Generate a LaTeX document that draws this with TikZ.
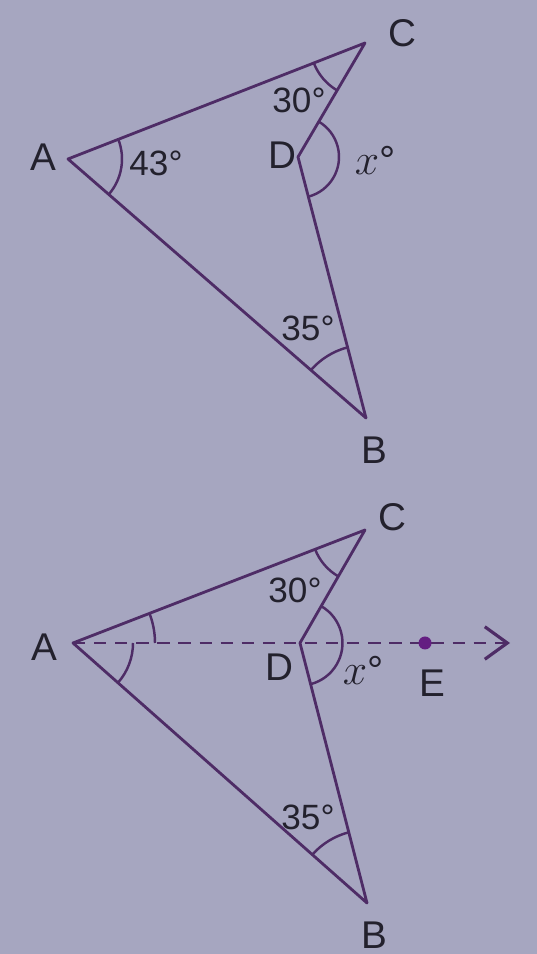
\documentclass[tikz,border=0pt]{standalone}
\usepackage{fontspec}
\setmainfont{Liberation Sans}
\usepackage{tikz}
\usetikzlibrary{arrows.meta,angles}
\definecolor{pageBg}{RGB}{166,166,192}
\definecolor{lineCol}{RGB}{78,44,102}
\definecolor{dotCol}{RGB}{100,30,130}
\definecolor{txtCol}{RGB}{35,33,45}
\tikzset{
  sideln/.style={line width=1.6pt, lineCol, line join=round},
  angarc/.style={draw=lineCol, line width=1.4pt},
  rayln/.style={lineCol, line width=1.4pt, dash pattern=on 7pt off 5pt,
    -{Straight Barb[length=4.5mm,width=6.5mm,line width=1.8pt]}},
  ptlbl/.style={font=\fontsize{22}{24}\selectfont, txtCol, inner sep=0pt},
  anglbl/.style={font=\fontsize{20}{22}\selectfont, txtCol, inner sep=0pt},
}

\begin{document}
\begin{tikzpicture}
    \fill[pageBg] (0,0) rectangle (10.74,19.08);
    \useasboundingbox (0,0) rectangle (10.74,19.08);
    % first figure
    \coordinate (A1) at (1.36,15.90);
    \coordinate (C1) at (7.30,18.22);
    \coordinate (D1) at (5.96,15.94);
    \coordinate (B1) at (7.32,10.72);
    \draw[sideln] (A1) -- (C1) -- (D1) -- (B1) -- cycle;
    \pic[angarc, angle radius=1.08cm] {angle=B1--A1--C1};
    \pic[angarc, angle radius=1.10cm] {angle=A1--C1--D1};
    \pic[angarc, angle radius=0.82cm] {angle=B1--D1--C1};
    \pic[angarc, angle radius=1.46cm] {angle=D1--B1--A1};
    \node[ptlbl] (lA1) at (0.86,15.94) {A};
    \node[ptlbl] (lC1) at (8.04,18.42) {C};
    \node[ptlbl] (lD1) at (5.64,15.98) {D};
    \node[ptlbl] (lB1) at (7.48,10.08) {B};
    \node[anglbl] (a43) at (3.12,15.82) {43°};
    \node[anglbl] (a30t) at (5.98,17.08) {30°};
    \node[anglbl] (axt) at (7.50,15.88) {\fontsize{23}{24}\selectfont$x$°};
    \node[anglbl] (a35t) at (6.16,12.52) {35°};
    % second figure, with the ray through D
    \coordinate (A2) at (1.46,6.22);
    \coordinate (C2) at (7.30,8.48);
    \coordinate (D2) at (6.00,6.22);
    \coordinate (B2) at (7.34,1.02);
    \coordinate (E2) at (8.50,6.22);
    \coordinate (R2) at (10.20,6.22);
    \draw[rayln] (A2) -- (R2);
    \fill[dotCol] (E2) circle (0.13);
    \draw[sideln] (A2) -- (C2) -- (D2) -- (B2) -- cycle;
    \pic[angarc, angle radius=1.20cm] {angle=B2--A2--D2};
    \pic[angarc, angle radius=1.64cm] {angle=D2--A2--C2};
    \pic[angarc, angle radius=1.07cm] {angle=A2--C2--D2};
    \pic[angarc, angle radius=0.85cm] {angle=B2--D2--C2};
    \pic[angarc, angle radius=1.46cm] {angle=D2--B2--A2};
    \node[ptlbl] (lA2) at (0.88,6.14) {A};
    \node[ptlbl] (lC2) at (7.84,8.74) {C};
    \node[ptlbl] (lD2) at (5.58,5.74) {D};
    \node[ptlbl] (lE2) at (8.64,5.42) {E};
    \node[ptlbl] (lB2) at (7.48,0.38) {B};
    \node[anglbl] (a30b) at (5.90,7.28) {30°};
    \node[anglbl] (axb) at (7.26,5.68) {\fontsize{23}{24}\selectfont$x$°};
    \node[anglbl] (a35b) at (6.16,2.74) {35°};
\end{tikzpicture}
\end{document}
